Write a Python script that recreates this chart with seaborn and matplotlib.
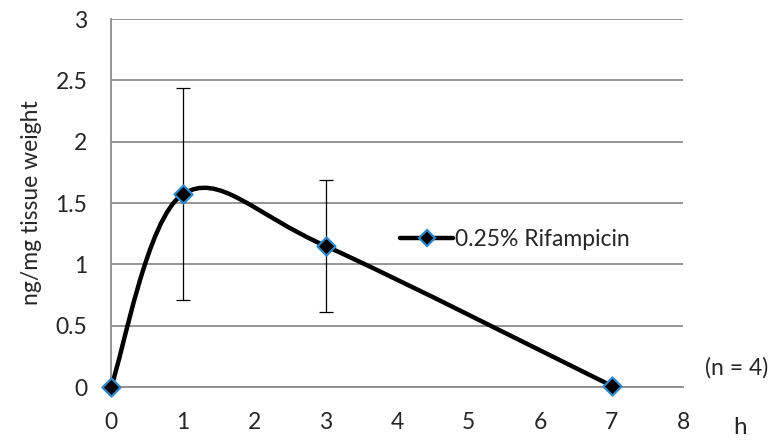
import numpy as np
import matplotlib
matplotlib.use('agg')
import matplotlib.pyplot as plt
from matplotlib.path import Path
from matplotlib.patches import PathPatch
from matplotlib.lines import Line2D
import seaborn as sns

hours = [0, 1, 3, 7]
conc = [0.0, 1.57, 1.15, 0.01]
err_low = [None, 0.71, 0.61, None]
err_high = [None, 2.44, 1.69, None]
series_name = '0.25% Rifampicin'

sns.set_style('white')
plt.rcParams['font.family'] = ['Lato', 'DejaVu Sans']
FS = 16.5

def smooth_path(xs, ys):
    # excel style smoothed line: cubic bezier, catmull-rom control points
    pts = np.column_stack([xs, ys]).astype(float)
    n = len(pts)
    verts = [pts[0]]
    codes = [Path.MOVETO]
    for i in range(n - 1):
        p0 = pts[i - 1] if i > 0 else pts[i]
        p1 = pts[i]
        p2 = pts[i + 1]
        p3 = pts[i + 2] if i + 2 < n else pts[i + 1]
        c1 = p1 + (p2 - p0) / 6.0
        c2 = p2 - (p3 - p1) / 6.0
        verts += [c1, c2, p2]
        codes += [Path.CURVE4] * 3
    return Path(verts, codes)

fig = plt.figure(figsize=(7.79, 4.45), dpi=100)
ax = fig.add_axes([0.1425, 0.1303, 0.7343, 0.8267])

grey = '#8c8c8c'
ax.add_patch(PathPatch(smooth_path(hours, conc), fill=False, lw=3.2, color='black', zorder=3))

for x, lo, hi, y in zip(hours, err_low, err_high, conc):
    if lo is None:
        continue
    ax.errorbar([x], [y], yerr=[[y - lo], [hi - y]], fmt='none', ecolor='black',
                elinewidth=0.9, capsize=5, capthick=0.9, zorder=2)

sns.scatterplot(x=hours, y=conc, ax=ax, marker='D', s=85, color='black',
                edgecolor='#2f86c8', linewidth=1.6, zorder=4, clip_on=False)

ax.set_xlim(0, 8)
ax.set_ylim(0, 3)
ax.set_xticks(range(0, 9))
ax.set_yticks(np.arange(0, 3.01, 0.5))
ax.set_yticklabels(['0', '0.5', '1', '1.5', '2', '2.5', '3'])
ax.yaxis.grid(True, color=grey, lw=1.3)
ax.set_axisbelow(True)
for s in ['top', 'right']:
    ax.spines[s].set_visible(False)
for s in ['left', 'bottom']:
    ax.spines[s].set_color(grey)
    ax.spines[s].set_linewidth(1.3)
ax.tick_params(axis='both', direction='out', length=6, width=1.3, color=grey,
               labelsize=FS)
ax.tick_params(axis='y', pad=11)
ax.tick_params(axis='x', pad=12)
ax.set_ylabel('ng/mg tissue weight', fontsize=FS, labelpad=10)

handle = Line2D([], [], color='black', lw=3.2, marker='D', markersize=8.5,
                markerfacecolor='black', markeredgecolor='#2f86c8', markeredgewidth=1.6)
ax.legend([handle], [series_name], loc='center left', bbox_to_anchor=(0.47, 0.40),
          frameon=False, fontsize=FS, handlelength=2.3, handletextpad=0.1)

fig.text(0.946, 0.173, '(n = 4)', fontsize=FS, ha='center', va='center')
fig.text(0.950, 0.040, 'h', fontsize=FS + 1, ha='center', va='center')

fig.savefig('out.png', dpi=100)
